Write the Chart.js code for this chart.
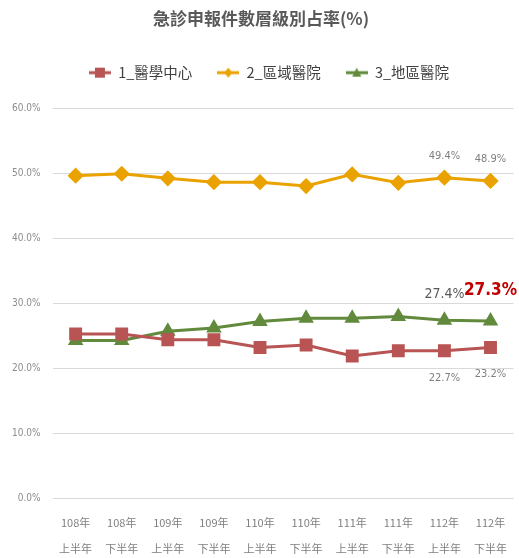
<!DOCTYPE html>
<html>
<head>
<meta charset="utf-8">
<script src="https://cdn.jsdelivr.net/npm/chart.js@4/dist/chart.umd.min.js"></script>
<style>
  html, body { margin: 0; padding: 0; background: #fff; overflow: hidden; }
  canvas { display: block; }
</style>
</head>
<body>
<canvas id="myChart" width="519" height="558"></canvas>
<script>
// data
const years = ['108年', '108年', '109年', '109年', '110年', '110年', '111年', '111年', '112年', '112年'];
const halves = ['上半年', '下半年', '上半年', '下半年', '上半年', '下半年', '上半年', '下半年', '上半年', '下半年'];
const medicalCenter = [25.3, 25.3, 24.4, 24.4, 23.2, 23.6, 21.9, 22.7, 22.7, 23.2];
const regionalHosp = [49.7, 50.0, 49.3, 48.7, 48.7, 48.1, 49.9, 48.6, 49.4, 48.9];
const districtHosp = [24.3, 24.3, 25.7, 26.2, 27.2, 27.7, 27.7, 28.0, 27.4, 27.3];
const seriesNames = ['1_醫學中心', '2_區域醫院', '3_地區醫院'];

const FONT = "'Noto Sans CJK TC', 'Noto Sans', sans-serif";
const NARROW = "'Liberation Sans Narrow', 'DejaVu Sans Condensed', sans-serif";
const RED = 'rgb(184, 84, 84)';
const ORANGE = 'rgb(234, 162, 0)';
const GREEN = 'rgb(98, 138, 60)';

// small line + marker picture for the legend
function legendIcon(color, style) {
  const c = document.createElement('canvas');
  c.width = 22; c.height = 14;
  const g = c.getContext('2d');
  g.strokeStyle = color; g.fillStyle = color; g.lineWidth = 3;
  g.beginPath(); g.moveTo(0, 7); g.lineTo(22, 7); g.stroke();
  g.beginPath();
  if (style === 'rect') g.rect(6, 2, 10, 10);
  else if (style === 'rectRot') { g.moveTo(11, 2); g.lineTo(15, 7); g.lineTo(11, 12); g.lineTo(7, 7); g.closePath(); }
  else { g.moveTo(11, 2); g.lineTo(15.5, 11); g.lineTo(6.5, 11); g.closePath(); }
  g.fill();
  return c;
}

// value labels on the last two points
const valueLabels = {
  id: 'valueLabels',
  afterDatasetsDraw(chart) {
    const ctx = chart.ctx;
    const specs = [
      { ds: 1, i: 8, dy: -22, font: '11px ' + NARROW, color: '#7f7f7f' },
      { ds: 1, i: 9, dy: -22, font: '11px ' + NARROW, color: '#7f7f7f' },
      { ds: 2, i: 8, dy: -26, font: '14px ' + NARROW, color: '#595959' },
      { ds: 2, i: 9, dy: -30, font: 'bold 17px ' + NARROW, color: '#c00000' },
      { ds: 0, i: 8, dy: 27, font: '11px ' + NARROW, color: '#7f7f7f' },
      { ds: 0, i: 9, dy: 27, font: '11px ' + NARROW, color: '#7f7f7f' }
    ];
    ctx.save();
    ctx.textAlign = 'center';
    ctx.textBaseline = 'middle';
    specs.forEach(s => {
      const pt = chart.getDatasetMeta(s.ds).data[s.i];
      const v = chart.data.datasets[s.ds].data[s.i];
      ctx.font = s.font;
      ctx.fillStyle = s.color;
      ctx.fillText(v.toFixed(1) + '%', pt.x, pt.y + s.dy);
    });
    ctx.restore();
  }
};

// extra space under the legend, and nudge it a bit to the right
const legendGap = {
  id: 'legendGap',
  beforeInit(chart) {
    const fit = chart.legend.fit;
    chart.legend.fit = function () {
      fit.bind(chart.legend)();
      this.height += 19;
    };
  },
  afterLayout(chart) {
    chart.legend.left += 8;
    chart.legend.right += 8;
  }
};

const ctx = document.getElementById('myChart');

const myChart = new Chart(ctx, {
  type: 'line',
  data: {
    labels: years.map((y, i) => [y, halves[i]]),
    datasets: [{
      label: seriesNames[0],
      data: medicalCenter,
      borderColor: RED,
      backgroundColor: RED,
      borderWidth: 3,
      pointStyle: 'rect',
      pointRadius: 7,
      icon: legendIcon(RED, 'rect')
    }, {
      label: seriesNames[1],
      data: regionalHosp,
      borderColor: ORANGE,
      backgroundColor: ORANGE,
      borderWidth: 3,
      pointStyle: 'rectRot',
      pointRadius: 6,
      icon: legendIcon(ORANGE, 'rectRot')
    }, {
      label: seriesNames[2],
      data: districtHosp,
      borderColor: GREEN,
      backgroundColor: GREEN,
      borderWidth: 3,
      pointStyle: 'triangle',
      pointRadius: 6,
      icon: legendIcon(GREEN, 'triangle')
    }]
  },
  options: {
    responsive: false,
    animation: false,
    devicePixelRatio: 1,
    layout: { autoPadding: false, padding: { left: 0, right: -3, top: 6, bottom: 0 } },
    plugins: {
      title: {
        display: true,
        text: '急診申報件數層級別占率(%)',
        color: '#595959',
        font: { family: FONT, size: 17, weight: 'bold' },
        padding: { top: 2, bottom: 12 }
      },
      legend: {
        display: true,
        labels: {
          color: '#404040',
          font: { family: FONT, size: 14.5 },
          usePointStyle: true,
          pointStyleWidth: 22,
          padding: 25,
          generateLabels(chart) {
            return chart.data.datasets.map((d, i) => ({
              text: d.label,
              pointStyle: d.icon,
              fontColor: '#404040',
              datasetIndex: i,
              hidden: false,
              lineWidth: 0
            }));
          }
        }
      },
      tooltip: { enabled: false }
    },
    scales: {
      x: {
        offset: true,
        grid: { display: false, drawTicks: false },
        border: { display: false },
        afterFit(scale) { scale.height = 60; },
        ticks: {
          color: '#7f7f7f',
          font: { family: FONT, size: 11, lineHeight: 2.36 },
          maxRotation: 0,
          padding: 12
        }
      },
      y: {
        min: 0,
        max: 60,
        border: { display: false },
        grid: { color: '#d9d9d9', lineWidth: 1, drawTicks: false },
        ticks: {
          stepSize: 10,
          color: '#8c8c8c',
          font: { family: NARROW, size: 10 },
          padding: 12,
          callback: v => v.toFixed(1) + '%'
        }
      }
    }
  },
  plugins: [valueLabels, legendGap]
});
</script>
</body>
</html>
